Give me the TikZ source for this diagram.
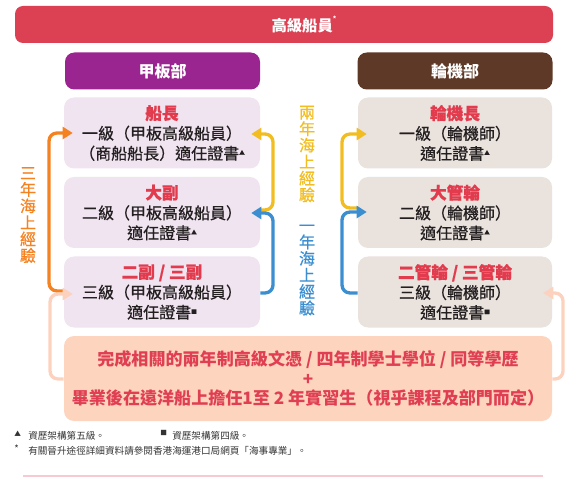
\documentclass[tikz,border=0pt]{standalone}
\usepackage{fontspec}
\setmainfont{Noto Sans CJK TC}
\newfontfamily\medfont[FakeBold=0.7]{Noto Sans CJK TC}
\usetikzlibrary{arrows.meta,calc}
\definecolor{hdrred}{HTML}{DC4053}
\definecolor{deckpurple}{HTML}{9B2590}
\definecolor{engbrown}{HTML}{5E3927}
\definecolor{deckfill}{HTML}{F0E4F0}
\definecolor{engfill}{HTML}{E9E2DD}
\definecolor{titlered}{HTML}{E23B4E}
\definecolor{bodytext}{HTML}{231F20}
\definecolor{orangec}{HTML}{F58220}
\definecolor{yellowc}{HTML}{F1BD21}
\definecolor{bluec}{HTML}{3B8ED0}
\definecolor{peachfill}{HTML}{FDD4BE}
\definecolor{peachline}{HTML}{FCD2BE}
\definecolor{botred}{HTML}{E03E52}
\definecolor{footgray}{HTML}{333333}
\definecolor{linepink}{HTML}{F9C9D3}
\newcommand\mytri{{\fontsize{4.2}{5}\selectfont\raisebox{1.5ex}{▲}}}
\newcommand\mysq{{\fontsize{4.2}{5}\selectfont\raisebox{1.5ex}{■}}}
\newcommand\ttl[1]{{\color{titlered}\fontsize{12.5}{15}\bfseries #1}}
\begin{document}
\begin{tikzpicture}[x=0.75pt,y=-0.75pt,
  every node/.style={inner sep=0pt},
  hdrbar/.style={fill=hdrred, rounded corners=6pt, minimum width=403.5pt, minimum height=27.75pt},
  depthdr/.style={rounded corners=7pt, minimum width=146.25pt, minimum height=27.75pt, text=white, font=\fontsize{12}{14}\selectfont\bfseries},
  deckbox/.style={fill=deckfill, rounded corners=7.5pt, minimum width=147pt, minimum height=53.25pt, align=center, text=bodytext, font=\fontsize{12}{15}\selectfont\medfont},
  engbox/.style={fill=engfill, rounded corners=7.5pt, minimum width=145.5pt, minimum height=53.25pt, align=center, text=bodytext, font=\fontsize{12}{15}\selectfont\medfont},
  basebox/.style={fill=peachfill, rounded corners=7.5pt, minimum width=366pt, minimum height=63.75pt, align=center, text=botred, font=\fontsize{12.8}{14.6}\selectfont\bfseries},
  conn/.style={line width=2.5pt, rounded corners=6pt, -{Triangle[width=9pt,length=7.5pt]}},
  vlabel/.style={align=center, font=\fontsize{12}{12.4}\selectfont\medfont},
  foot/.style={anchor=west, text=footgray, font=\fontsize{7.2}{9}\selectfont}
]
\useasboundingbox (0,0) rectangle (585,477);

% header
\node[hdrbar] (hdr) at (284,24.5) {};
\node[text=white, font=\fontsize{11.5}{14}\selectfont\bfseries] (hdrtxt) at (304,25) {高級船員\raisebox{1.2ex}{\fontsize{5}{5}\selectfont *}};

\node[depthdr, fill=deckpurple] (deck) at (162.5,71) {甲板部};
\node[depthdr, fill=engbrown] (eng) at (455,71) {輪機部};

% deck boxes
\node[deckbox] (d1) at (162,133) {\ttl{船長}\\一級（甲板高級船員）\\（商船船長）適任證書\mytri};
\node[deckbox] (d2) at (162,212.5) {\ttl{大副}\\二級（甲板高級船員）\\適任證書\mytri};
\node[deckbox] (d3) at (162,292) {\ttl{二副 / 三副}\\三級（甲板高級船員）\\適任證書\mysq};

% engine boxes
\node[engbox] (e1) at (455,133) {\ttl{輪機長}\\一級（輪機師）\\適任證書\mytri};
\node[engbox] (e2) at (455,212.5) {\ttl{大管輪}\\二級（輪機師）\\適任證書\mytri};
\node[engbox] (e3) at (455,292) {\ttl{二管輪 / 三管輪}\\三級（輪機師）\\適任證書\mysq};

% base box
\node[basebox] (base) at (308,378.5) {完成相關的兩年制高級文憑 / 四年制學士學位 / 同等學歷\\+\\畢業後在遠洋船上擔任1至 2 年實習生（視乎課程及部門而定）};

% connectors left
\draw[conn, orangec] (d3.west |- 0,291) -- (49,291) -- (49,133) -- ($(d1.west |- 0,133)+(9,0)$);
\draw[conn, peachline] (base.west |- 0,379) -- (50,379) -- (50,294) -- ($(d3.west |- 0,294)+(9,0)$);
\draw[conn, peachline] (base.east |- 0,379) -- (563,379) -- (563,293) -- ($(e3.east |- 0,293)+(-9,0)$);

% connectors deck right
\draw[conn, yellowc] (d2.east |- 0,210) -- (273,210) -- (273,134) -- ($(d1.east |- 0,134)+(-9,0)$);
\draw[conn, bluec] (d3.east |- 0,293) -- (273,293) -- (273,213) -- ($(d2.east |- 0,213)+(-9,0)$);

% connectors engine left
\draw[conn, yellowc] (e2.west |- 0,208) -- (342,208) -- (342,134) -- ($(e1.west |- 0,134)+(9,0)$);
\draw[conn, bluec] (e3.west |- 0,293) -- (342,293) -- (342,212) -- ($(e2.west |- 0,212)+(9,0)$);

% vertical labels
\node[vlabel, text=orangec] (l3) at (28,215) {三\\年\\海\\上\\經\\驗};
\node[vlabel, text=yellowc] (l2) at (307,154) {兩\\年\\海\\上\\經\\驗};
\node[vlabel, text=bluec] (l1) at (307,270) {一\\年\\海\\上\\經\\驗};

% footnotes
\node[foot] (f1m) at (14,434) {{\fontsize{5}{5}\selectfont ▲}};
\node[foot] (f1) at (28,436) {資歷架構第五級。};
\node[foot] (f2m) at (160,433) {{\fontsize{5}{5}\selectfont ■}};
\node[foot] (f2) at (172,436) {資歷架構第四級。};
\node[foot] (f3m) at (14,449) {*};
\node[foot] (f3) at (28,451) {有關晉升途徑詳細資料請參閱香港海運港口局網頁「海事專業」。};

\coordinate (lnA) at (23,476);
\coordinate (lnB) at (543,476);
\draw[linepink, line width=0.8pt] (lnA) -- (lnB);
\end{tikzpicture}
\end{document}
